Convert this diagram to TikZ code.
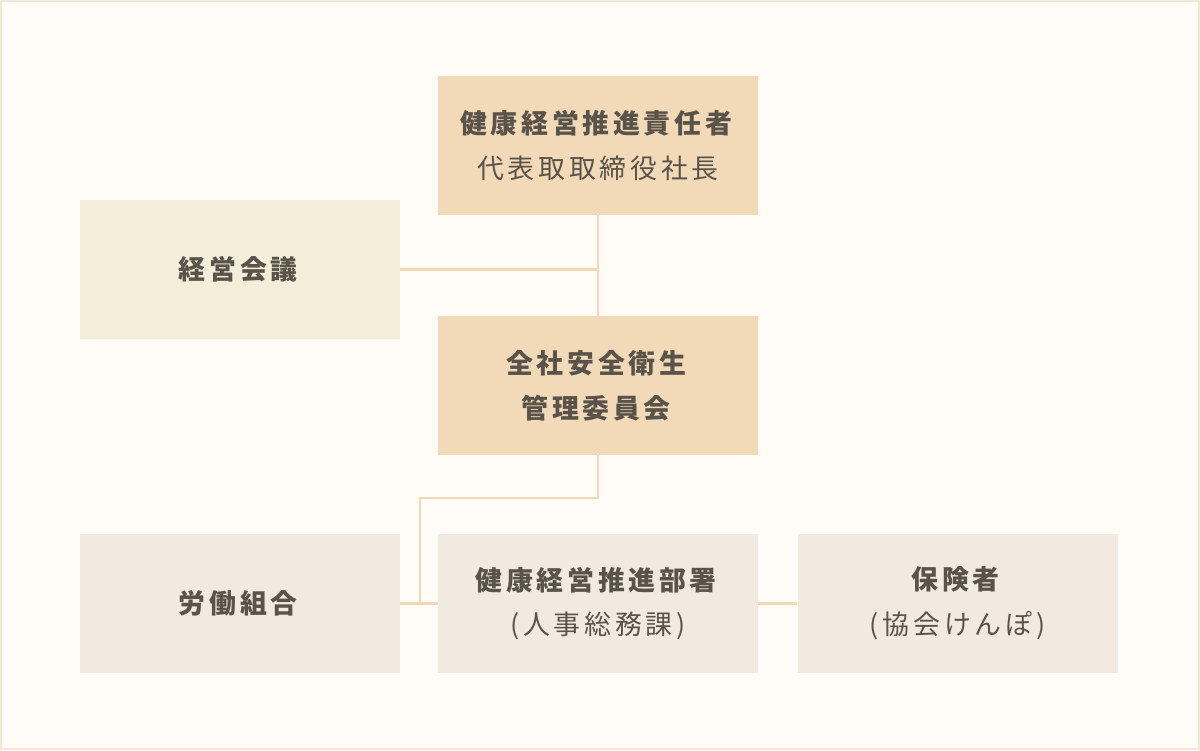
\documentclass[tikz,border=0pt]{standalone}
\usepackage{fontspec}
\newfontfamily\jp[LetterSpace=14]{Noto Sans CJK JP}
\definecolor{bgcol}{HTML}{FFFBF6}
\definecolor{framecol}{HTML}{F3E8D8}
\definecolor{leadcol}{HTML}{F2DAB8}
\definecolor{meetcol}{HTML}{F3EDD9}
\definecolor{unitcol}{HTML}{F2EAE0}
\definecolor{linkcol}{HTML}{F2D9B5}
\definecolor{inkcol}{HTML}{59534A}
\begin{document}
\begin{tikzpicture}[
    box/.style={minimum width=6.4cm, minimum height=2.78cm, inner sep=0pt, align=center,
        text=inkcol, font=\jp\fontsize{15.3pt}{25.5pt}\selectfont},
    lead/.style={box, fill=leadcol},
    meet/.style={box, fill=meetcol},
    unit/.style={box, fill=unitcol},
    link/.style={linkcol, line width=1.15pt}
]
    \useasboundingbox (0,0) rectangle (24,15);
    \fill[bgcol] (0,0) rectangle (24,15);
    \draw[framecol, line width=1.2pt] (0.02,0.02) rectangle (23.98,14.98);

    % Top
    \node[lead] (head) at (11.96,12.09) {\textbf{健康経営推進責任者}\\代表取取締役社長};
    \node[meet] (board) at (4.8,9.61) {\textbf{経営会議}};
    \node[lead] (comm) at (11.96,7.29) {\textbf{全社安全衛生}\\\textbf{管理委員会}};

    % Bottom row
    \node[unit] (union) at (4.8,2.93) {\textbf{労働組合}};
    \node[unit] (office) at (11.96,2.93) {\textbf{健康経営推進部署}\\(人事総務課)};
    \node[unit] (insurer) at (19.15,2.93) {\textbf{保険者}\\(協会けんぽ)};

    % Links
    \coordinate (bend) at (8.4,5.04);
    \draw[link] (head.south) -- (comm.north);
    \draw[link] (board.east) -- (board.east -| head.south);
    \draw[link] (comm.south) -- (comm.south |- bend) -- (bend) -- (bend |- office.west);
    \draw[link] (union.east) -- (office.west);
    \draw[link] (office.east) -- (insurer.west);
\end{tikzpicture}
\end{document}
